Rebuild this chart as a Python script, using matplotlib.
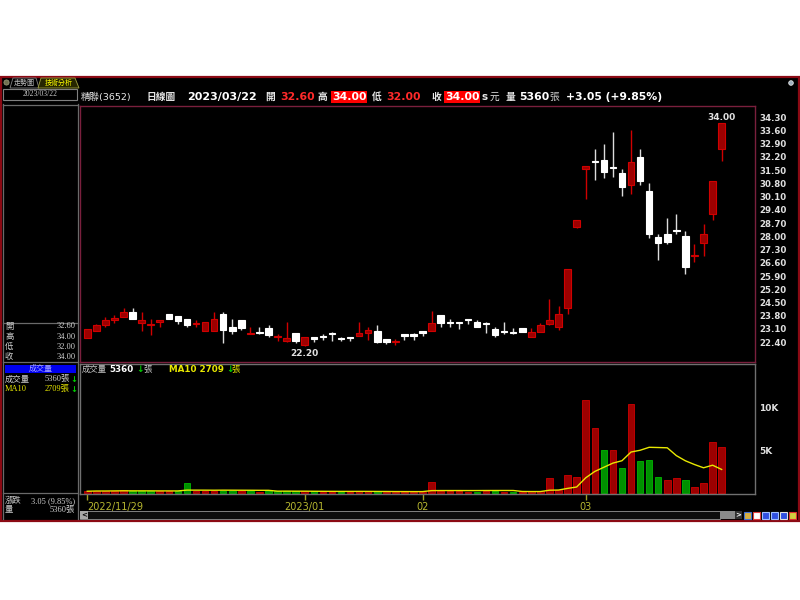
import numpy as np
import pandas as pd
import matplotlib
matplotlib.use('Agg')
import matplotlib.pyplot as plt
from matplotlib.patches import Rectangle, Polygon, Circle

plt.rcParams['font.family'] = ['DejaVu Sans', 'Noto Sans CJK TC']

# 精聯(3652) daily bars, 2022/11/29 .. 2023/03/22
opens = [22.60, 23.00, 23.30, 23.55, 23.75, 24.00, 23.40, 23.30, 23.45, 23.90,
         23.80, 23.65, 23.35, 23.00, 23.00, 23.90, 23.20, 23.55, 22.85, 22.95,
         23.15, 22.65, 22.45, 22.90, 22.25, 22.70, 22.70, 22.90, 22.60, 22.65,
         22.75, 22.90, 23.00, 22.55, 22.40, 22.85, 22.80, 23.00, 23.00, 23.85,
         23.45, 23.45, 23.65, 23.45, 23.40, 23.10, 23.00, 22.95, 23.15, 22.70,
         22.95, 23.35, 23.20, 24.20, 28.50, 31.55, 32.00, 32.05, 31.65, 31.35,
         30.70, 32.20, 30.40, 27.95, 28.10, 28.35, 28.00, 26.95, 27.65, 29.20,
         32.60]
highs = [23.10, 23.35, 23.75, 23.85, 24.20, 24.20, 24.00, 23.65, 23.60, 23.90,
         23.80, 23.65, 23.55, 23.45, 24.00, 24.00, 23.65, 23.55, 23.20, 23.20,
         23.30, 22.85, 23.45, 22.90, 22.70, 22.70, 22.85, 22.95, 22.70, 22.65,
         23.45, 23.20, 23.30, 22.55, 22.55, 22.85, 22.90, 23.00, 24.05, 23.85,
         23.65, 23.45, 23.65, 23.55, 23.45, 23.20, 23.45, 23.15, 23.15, 23.15,
         23.40, 24.70, 24.30, 26.25, 28.85, 31.70, 32.60, 32.90, 33.50, 31.55,
         33.65, 32.60, 30.80, 28.15, 28.95, 29.20, 28.30, 27.60, 28.65, 30.95,
         34.00]
lows = [22.60, 23.00, 23.20, 23.40, 23.75, 23.65, 23.00, 22.80, 23.20, 23.65,
        23.35, 23.20, 23.20, 23.00, 23.00, 22.35, 22.85, 23.05, 22.85, 22.85,
        22.70, 22.45, 22.40, 22.35, 22.20, 22.40, 22.50, 22.45, 22.45, 22.45,
        22.75, 22.50, 22.35, 22.30, 22.25, 22.50, 22.50, 22.75, 23.00, 23.20,
        23.20, 23.10, 23.35, 23.20, 22.90, 22.70, 22.85, 22.85, 22.95, 22.70,
        22.95, 23.30, 23.05, 23.90, 28.45, 30.00, 31.00, 31.10, 31.15, 30.15,
        30.25, 30.70, 27.90, 26.75, 27.60, 28.10, 26.00, 26.65, 26.95, 28.85,
        32.00]
closes = [23.10, 23.30, 23.55, 23.70, 24.00, 23.65, 23.55, 23.35, 23.60, 23.65,
          23.50, 23.30, 23.40, 23.45, 23.65, 23.05, 23.00, 23.15, 22.90, 22.90,
          22.80, 22.70, 22.60, 22.45, 22.70, 22.55, 22.65, 22.85, 22.55, 22.60,
          22.90, 23.05, 22.40, 22.40, 22.45, 22.75, 22.75, 22.90, 23.40, 23.40,
          23.40, 23.40, 23.55, 23.20, 23.35, 22.80, 22.95, 22.90, 22.95, 22.95,
          23.30, 23.60, 23.90, 26.25, 28.85, 31.70, 31.95, 31.40, 31.60, 30.60,
          31.95, 30.95, 28.15, 27.65, 27.70, 28.30, 26.40, 27.00, 28.15, 30.95,
          34.00]
volumes = [150, 200, 180, 220, 250, 160, 200, 180, 150, 170,
           140, 1150, 150, 200, 180, 230, 160, 140, 120, 110,
           130, 150, 200, 120, 180, 140, 100, 90, 80, 110,
           150, 120, 130, 90, 100, 110, 80, 90, 1230, 200,
           150, 120, 100, 110, 150, 130, 90, 80, 70, 120,
           150, 1700, 300, 2050, 1780, 10940, 7570, 4990, 4990, 2910,
           10390, 3760, 3800, 1780, 1470, 1740, 1470, 610, 1150, 5950,
           5360]

date_ticks = [0, 24, 37, 55]
date_labels = ['2022/11/29', '2023/01', '02', '03']
price_ticks = [34.30, 33.60, 32.90, 32.20, 31.50, 30.80, 30.10, 29.40, 28.70,
               28.00, 27.30, 26.60, 25.90, 25.20, 24.50, 23.80, 23.10, 22.40]
vol_ticks = [5000, 10000]
vol_tick_labels = ['5K', '10K']

W, H = 800, 600
RED_FILL, RED_EDGE = '#9c0000', '#d00000'
GREEN_FILL, GREEN_EDGE = '#009000', '#00b800'
OLIVE = '#b8b830'
GREY_LINE = '#6a6a6a'
SERIF = ['Liberation Serif', 'Noto Sans CJK TC']


def px_box(x0, y0, x1, y1):
    return [x0 / W, 1 - y1 / H, (x1 - x0) / W, (y1 - y0) / H]


fig = plt.figure(figsize=(8, 6), dpi=100, facecolor='white')

# background / frame drawn in pixel coordinates
bg = fig.add_axes([0, 0, 1, 1])
bg.set_xlim(0, W)
bg.set_ylim(H, 0)
bg.axis('off')


def label(x, y, s, color='#e0e0e0', size=7, weight='normal', ha='left', **kw):
    bg.text(x, y, s, color=color, fontsize=size, fontweight=weight, ha=ha, va='center', **kw)


bg.add_patch(Rectangle((1, 77), 798, 444, facecolor='black', edgecolor='#8b0a14', lw=1.6))

# tabs
bg.add_patch(Circle((6.5, 82.5), 2.6, facecolor='#707050', edgecolor='#a0a080', lw=0.5))
bg.add_patch(Polygon([(10, 88), (13, 78), (36, 78), (39, 88)], closed=True,
                     facecolor='black', edgecolor='#808080', lw=0.6))
bg.add_patch(Polygon([(38, 88), (41, 78), (75, 78), (79, 88)], closed=True,
                     facecolor='#262600', edgecolor='#a0a040', lw=0.6))
label(24.5, 83, '走勢圖', color='#c0c0c0', size=5, ha='center', family=['Noto Sans CJK TC'])
label(58.5, 83, '技術分析', color='#ffff00', size=5, ha='center', family=['Noto Sans CJK TC'])
bg.add_patch(Circle((791, 83), 2.3, facecolor='#a0b0c0', edgecolor='#e0e0e0', lw=0.6))

# left info panel
bg.add_patch(Rectangle((3, 89), 74, 11, facecolor='black', edgecolor='#808080', lw=0.8))
label(40, 94.5, '2023/03/22', color='#c8c8c8', size=5.5, ha='center', family=SERIF)
for xv in (2.5, 77.8):
    bg.plot([xv, xv], [104, 519], color=GREY_LINE, lw=0.9)
for yv in (105, 323, 362, 493):
    bg.plot([2.5, 77.8], [yv, yv], color=GREY_LINE, lw=0.9)

ohlc_rows = [('開', '32.60'), ('高', '34.00'), ('低', '32.00'), ('收', '34.00')]
for k, (name, val) in enumerate(ohlc_rows):
    yy = 326.5 + k * 10.2
    label(5, yy, name, color='#d0d0d0', size=6, family=SERIF)
    label(76, yy, val, color='#d0d0d0', size=6, ha='right', family=SERIF)

bg.add_patch(Rectangle((5, 365), 71, 8, facecolor='#0000f0', edgecolor='none'))
label(40.5, 369, '成交量', color='#a8a8ff', size=5.8, ha='center', family=SERIF)
label(5, 379.3, '成交量', color='#d0d0d0', size=6, family=SERIF)
label(70, 379.3, '5360張', color='#d0d0d0', size=6, ha='right', family=SERIF)
label(73.5, 379.3, '↓', color='#00d000', size=6, weight='bold', ha='center')
label(5, 389, 'MA10', color='#e8e800', size=6, family=SERIF)
label(70, 389, '2709張', color='#e8e800', size=6, ha='right', family=SERIF)
label(73.5, 389, '↓', color='#00d000', size=6, weight='bold', ha='center')
label(5, 501, '漲跌', color='#d0d0d0', size=6, family=SERIF)
label(75, 501, '3.05 (9.85%)', color='#d0d0d0', size=6, ha='right', family=SERIF)
label(5, 509.5, '量', color='#d0d0d0', size=6, family=SERIF)
label(75, 509.5, '5360張', color='#d0d0d0', size=6, ha='right', family=SERIF)

# header line
HY = 97
label(81, HY, '精聯(3652)', color='#e8e8e8', size=6.8)
label(146, HY, '日線圖', color='#e8e8e8', size=7, weight='bold')
label(187, HY, '2023/03/22', color='#ffffff', size=8, weight='bold')
label(265, HY, '開', color='#e8e8e8', size=7, weight='bold')
label(280, HY, '32.60', color='#ff2a2a', size=7.8, weight='bold')
label(318, HY, '高', color='#e8e8e8', size=7, weight='bold')
label(332, HY, '34.00', color='#ffffff', size=7.8, weight='bold',
      bbox=dict(facecolor='#ff0000', edgecolor='none', pad=0.6))
label(372, HY, '低', color='#e8e8e8', size=7, weight='bold')
label(386, HY, '32.00', color='#ff2a2a', size=7.8, weight='bold')
label(431, HY, '收', color='#e8e8e8', size=7, weight='bold')
label(445, HY, '34.00', color='#ffffff', size=7.8, weight='bold',
      bbox=dict(facecolor='#ff0000', edgecolor='none', pad=0.6))
label(481, HY, 's', color='#e8e8e8', size=7.5, weight='bold')
label(490, HY, '元', color='#e8e8e8', size=7)
label(506, HY, '量', color='#e8e8e8', size=7, weight='bold')
label(519, HY, '5360', color='#ffffff', size=7.8, weight='bold')
label(549, HY, '張', color='#c8c8c8', size=7)
label(566, HY, '+3.05 (+9.85%)', color='#ffffff', size=7.8, weight='bold')

# scrollbar + toolbar icons
bg.add_patch(Rectangle((80, 511), 640, 8, facecolor='#0c0c0c', edgecolor='#808080', lw=0.7))
bg.add_patch(Rectangle((80, 511), 7.5, 8, facecolor='#a8a8a8', edgecolor='none'))
label(83.8, 515, '<', color='black', size=5, weight='bold', ha='center')
bg.add_patch(Rectangle((720, 511), 15, 8, facecolor='#8a8a8a', edgecolor='none'))
bg.add_patch(Rectangle((735, 511), 7, 8, facecolor='#303030', edgecolor='none'))
label(738.5, 515, '>', color='white', size=5, weight='bold', ha='center')
icon_colors = [('#d8b040', '#4070d0'), ('#ffffff', '#e04040'), ('#3050e0', '#a0c0ff'),
               ('#3050e0', '#a0c0ff'), ('#3050e0', '#e0e0e0'), ('#d0d040', '#e03030')]
for k, (fc, ec) in enumerate(icon_colors):
    bg.add_patch(Rectangle((744 + k * 9, 511.5), 7, 7, facecolor=fc, edgecolor=ec, lw=0.8))

# price panel
idx = np.arange(len(closes))
x_lo = -0.8
x_hi = x_lo + 675 / 9.063

ax = fig.add_axes(px_box(80, 106, 755, 362), facecolor='black')
ax.set_xlim(x_lo, x_hi)
ax.set_ylim(21.353, 34.898)
for sp in ax.spines.values():
    sp.set_color('#7a1f3d')
    sp.set_linewidth(1)

up = np.array(closes) >= np.array(opens)
body_lo = np.minimum(opens, closes)
body_h = np.maximum(np.abs(np.array(closes) - np.array(opens)), 0.06)
wick_colors = [RED_EDGE if u else '#dcdcdc' for u in up]
ax.vlines(idx, lows, highs, colors=wick_colors, lw=1)
ax.bar(idx, body_h, bottom=body_lo, width=0.72,
       color=[RED_FILL if u else '#ffffff' for u in up],
       edgecolor=[RED_EDGE if u else '#ffffff' for u in up], lw=0.8, zorder=3)

ax.annotate('22.20', (24, lows[24]), xytext=(0, -2), textcoords='offset points',
            ha='center', va='top', color='#e0e0e0', fontsize=6.5, fontweight='bold')
ax.annotate('34.00', (70, highs[70]), xytext=(0, 1), textcoords='offset points',
            ha='center', va='bottom', color='#e0e0e0', fontsize=6.5, fontweight='bold')

ax.set_xticks([])
ax.yaxis.tick_right()
ax.set_yticks(price_ticks, [f'{p:.2f}' for p in price_ticks])
ax.tick_params(axis='y', length=0, pad=3, labelsize=6.2, labelcolor='#e0e0e0')
for t in ax.get_yticklabels():
    t.set_fontweight('bold')

# volume panel
vax = fig.add_axes(px_box(80, 364, 755, 494), facecolor='black')
vax.set_xlim(x_lo, x_hi)
vax.set_ylim(-176, 15118)
for sp in vax.spines.values():
    sp.set_color('#707070')
    sp.set_linewidth(1)

vol_up = [True] + [closes[i] >= closes[i - 1] for i in range(1, len(closes))]
vax.bar(idx, volumes, width=0.72,
        color=[RED_FILL if u else GREEN_FILL for u in vol_up],
        edgecolor=[RED_EDGE if u else GREEN_EDGE for u in vol_up], lw=0.6)
ma10 = pd.Series(volumes).rolling(10, min_periods=1).mean()
vax.plot(idx, ma10, color='#e8e800', lw=1)

vax.yaxis.tick_right()
vax.set_yticks(vol_ticks, vol_tick_labels)
vax.tick_params(axis='y', length=0, pad=3, labelsize=6.5, labelcolor='#e0e0e0')
for t in vax.get_yticklabels():
    t.set_fontweight('bold')

vax.set_xticks(date_ticks, date_labels)
vax.tick_params(axis='x', length=4.5, width=1, color='#a0a020', pad=1.5,
                labelsize=7, labelcolor=OLIVE)
vax.get_xticklabels()[0].set_ha('left')

vt = vax.transAxes
vax.text(0.002, 0.96, '成交量', transform=vt, color='#c8c8c8', fontsize=6, va='center')
vax.text(0.044, 0.96, '5360', transform=vt, color='#ffffff', fontsize=6.3, fontweight='bold', va='center')
vax.text(0.084, 0.96, '↓', transform=vt, color='#00d000', fontsize=6.5, fontweight='bold', va='center')
vax.text(0.094, 0.96, '張', transform=vt, color='#c8c8c8', fontsize=6, va='center')
vax.text(0.132, 0.96, 'MA10 2709', transform=vt, color='#e8e800', fontsize=6.3, fontweight='bold', va='center')
vax.text(0.216, 0.96, '↓', transform=vt, color='#00d000', fontsize=6.5, fontweight='bold', va='center')
vax.text(0.225, 0.96, '張', transform=vt, color='#e8e800', fontsize=6, va='center')

fig.savefig('out.png', dpi=100, facecolor='white')
